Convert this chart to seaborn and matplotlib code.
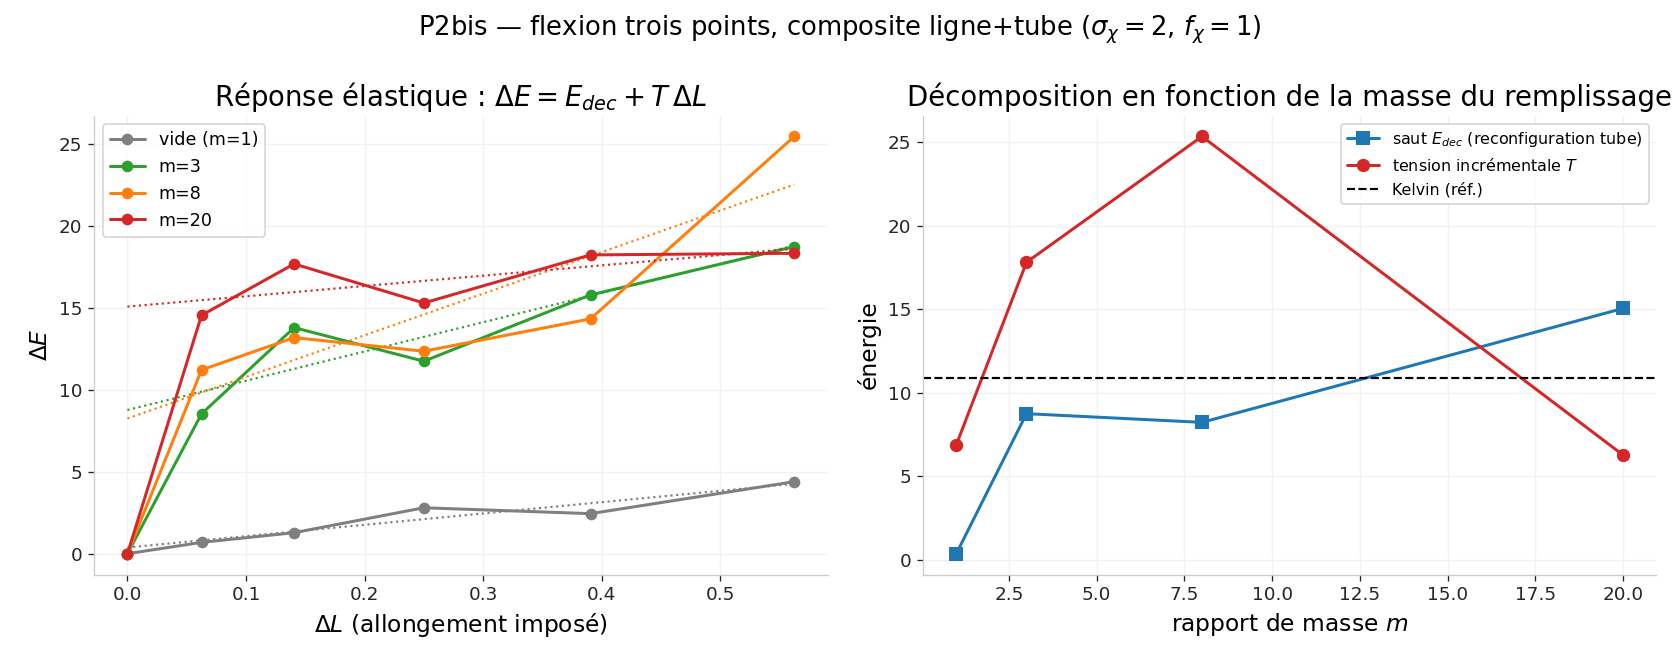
import numpy as np
import pandas as pd
import matplotlib
matplotlib.use("Agg")
import matplotlib.pyplot as plt
import seaborn as sns

# Données
delta_L = [0.0, 0.0625, 0.140625, 0.25, 0.390625, 0.5625]
serie_labels = ["vide (m=1)", "m=3", "m=8", "m=20"]
serie_colors = ["#7f7f7f", "#2ca02c", "#ff7f0e", "#d62728"]
dE_vide = [0.0, 0.69, 1.28, 2.80, 2.44, 4.39]
dE_m3 = [0.0, 8.52, 13.78, 11.73, 15.77, 18.72]
dE_m8 = [0.0, 11.20, 13.17, 12.34, 14.31, 25.43]
dE_m20 = [0.0, 14.53, 17.66, 15.28, 18.21, 18.31]

masses = [1, 3, 8, 20]
E_dec = [0.38, 8.76, 8.24, 15.06]
T_inc = [6.90, 17.82, 25.35, 6.28]
E_kelvin = 10.9

sns.set_style("whitegrid", {"axes.edgecolor": ".8", "grid.color": ".95",
                            "xtick.bottom": True, "ytick.left": True,
                            "text.color": "black", "axes.labelcolor": "black",
                            "xtick.color": ".15", "ytick.color": ".15"})
plt.rcParams["font.family"] = ["DejaVu Sans"]

fig, (ax1, ax2) = plt.subplots(1, 2, figsize=(14, 5.6), dpi=120)

#Panneau gauche : réponse élastique
series = [dE_vide, dE_m3, dE_m8, dE_m20]
for lab, col, vals, e0, t in zip(serie_labels, serie_colors, series, E_dec, T_inc):
    sns.lineplot(x=delta_L, y=vals, marker="o", markersize=7, markeredgewidth=0,
                 color=col, linewidth=1.8, label=lab, ax=ax1)
    xs = np.array([delta_L[0], delta_L[-1]])
    ax1.plot(xs, e0 + t * xs, ls=":", color=col, lw=1.3)

ax1.set_title(r"Réponse élastique : $\Delta E = E_{dec} + T\,\Delta L$", fontsize=16.5)
ax1.set_xlabel(r"$\Delta L$ (allongement imposé)", fontsize=14)
ax1.set_ylabel(r"$\Delta E$", fontsize=14)
ax1.legend(loc="upper left", fontsize=10.5, frameon=True)
ax1.tick_params(labelsize=11)

#Panneau droit : décomposition
df = pd.DataFrame({"m": masses, "E_dec": E_dec, "T": T_inc})
sns.lineplot(data=df, x="m", y="E_dec", marker="s", markersize=8, markeredgewidth=0,
             color="#1f77b4", linewidth=1.8,
             label=r"saut $E_{dec}$ (reconfiguration tube)", ax=ax2)
sns.lineplot(data=df, x="m", y="T", marker="o", markersize=8, markeredgewidth=0,
             color="#d62728", linewidth=1.8,
             label=r"tension incrémentale $T$", ax=ax2)
ax2.axhline(E_kelvin, color="black", ls="--", lw=1.3, label="Kelvin (réf.)")
ax2.set_title("Décomposition en fonction de la masse du remplissage", fontsize=16.5)
ax2.set_xlabel(r"rapport de masse $m$", fontsize=14)
ax2.set_ylabel("énergie", fontsize=14)
ax2.legend(loc="upper right", fontsize=9.5, frameon=True)
ax2.tick_params(labelsize=11)

sns.despine(fig)
fig.suptitle(r"P2bis — flexion trois points, composite ligne+tube ($\sigma_\chi = 2$, $f_\chi = 1$)",
             fontsize=15.5)
fig.subplots_adjust(left=0.056, right=0.986, bottom=0.145, top=0.828, wspace=0.13)
fig.savefig("out.png")
